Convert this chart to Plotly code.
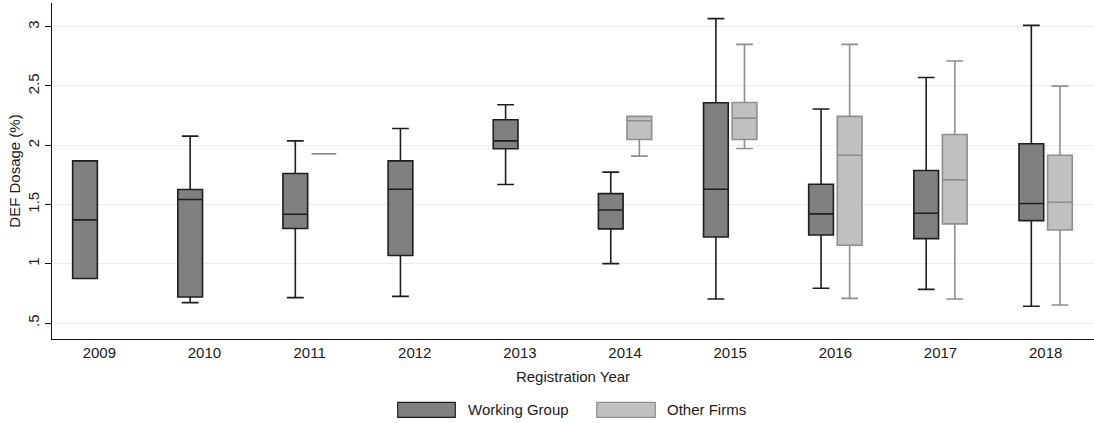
import plotly.graph_objects as go

# ---- data ----
years = ["2009", "2010", "2011", "2012", "2013", "2014", "2015", "2016", "2017", "2018"]

wg_years = ["2009", "2010", "2011", "2012", "2013", "2014", "2015", "2016", "2017", "2018"]
wg_lo  = [0.875, 0.672, 0.714, 0.725, 1.668, 1.001, 0.703, 0.793, 0.784, 0.641]
wg_q1  = [0.875, 0.720, 1.297, 1.069, 1.970, 1.294, 1.226, 1.243, 1.212, 1.364]
wg_med = [1.370, 1.542, 1.418, 1.629, 2.037, 1.454, 1.629, 1.421, 1.426, 1.508]
wg_q3  = [1.868, 1.626, 1.761, 1.868, 2.215, 1.592, 2.358, 1.671, 1.787, 2.012]
wg_hi  = [1.868, 2.077, 2.037, 2.141, 2.341, 1.773, 3.068, 2.305, 2.572, 3.011]

of_years = ["2011", "2014", "2015", "2016", "2017", "2018"]
of_lo  = [1.927, 1.908, 1.972, 0.708, 0.703, 0.652]
of_q1  = [1.927, 2.048, 2.048, 1.156, 1.336, 1.285]
of_med = [1.927, 2.206, 2.229, 1.916, 1.708, 1.519]
of_q3  = [1.927, 2.243, 2.361, 2.243, 2.091, 1.916]
of_hi  = [1.927, 2.243, 2.851, 2.851, 2.710, 2.499]

y_ticks = [0.5, 1, 1.5, 2, 2.5, 3]
y_ticktext = [".5", "1", "1.5", "2", "2.5", "3"]

series_names = ["Working Group", "Other Firms"]

# ---- styles ----
FONT = "Liberation Sans, Arial, Helvetica, sans-serif"
WG_FILL, WG_LINE = "#808080", "#1e1e1e"
OF_FILL, OF_LINE = "#c0c0c0", "#8e8e8e"
GRID = "#e6eeee"

fig = go.Figure()
fig.add_trace(go.Box(
    name=series_names[0], x=wg_years,
    q1=wg_q1, median=wg_med, q3=wg_q3, lowerfence=wg_lo, upperfence=wg_hi,
    fillcolor=WG_FILL, line=dict(color=WG_LINE, width=1.6),
    whiskerwidth=0.68, boxpoints=False, showlegend=False,
))
fig.add_trace(go.Box(
    name=series_names[1], x=of_years,
    q1=of_q1, median=of_med, q3=of_q3, lowerfence=of_lo, upperfence=of_hi,
    fillcolor=OF_FILL, line=dict(color=OF_LINE, width=1.6),
    whiskerwidth=0.68, boxpoints=False, showlegend=False,
))

W, H = 1094, 423
ML, MR, MT, MB = 52, 0, 3, 84
pw, ph = W - ML - MR, H - MT - MB

def px(x):
    return (x - ML) / pw

def py(y):
    return (H - MB - y) / ph

# custom legend (wide swatches like the original)
legend_items = [
    (series_names[0], WG_FILL, WG_LINE, 397.7, 455.3, 465.7),
    (series_names[1], OF_FILL, OF_LINE, 596.7, 655.3, 665.0),
]
shapes = []
annotations = []
for name, fill, line, x0, x1, xt in legend_items:
    shapes.append(dict(type="rect", xref="paper", yref="paper",
                       x0=px(x0), x1=px(x1), y0=py(417.3), y1=py(402.3),
                       fillcolor=fill, line=dict(color=line, width=1.2)))
    annotations.append(dict(xref="paper", yref="paper", x=px(xt), y=py(409.8),
                            xanchor="left", yanchor="middle", showarrow=False,
                            text=name, font=dict(family=FONT, size=15, color="#1a1a1a")))

fig.update_layout(
    width=W, height=H,
    margin=dict(l=ML, r=MR, t=MT, b=MB, autoexpand=False),
    paper_bgcolor="white", plot_bgcolor="white",
    boxmode="group", boxgap=0.456, boxgroupgap=0.136,
    font=dict(family=FONT, size=15, color="#1a1a1a"),
    shapes=shapes, annotations=annotations,
    xaxis=dict(
        type="category", categoryorder="array", categoryarray=years,
        range=[-0.45, 9.46], automargin=False,
        showline=True, linecolor="#111", linewidth=1.2,
        ticks="", showgrid=False, zeroline=False,
        tickfont=dict(family=FONT, size=15, color="#1a1a1a"),
        title=dict(text="Registration Year", standoff=11,
                   font=dict(family=FONT, size=15, color="#1a1a1a")),
    ),
    yaxis=dict(
        range=[0.365, 3.2], automargin=False,
        tickvals=y_ticks, ticktext=y_ticktext, tickangle=-90,
        showline=True, linecolor="#111", linewidth=1.2,
        ticks="outside", ticklen=6, tickcolor="#111", tickwidth=1.2,
        showgrid=True, gridcolor=GRID, gridwidth=1, zeroline=False,
        tickfont=dict(family=FONT, size=15, color="#1a1a1a"),
        title=dict(text="DEF Dosage (%)", standoff=0,
                   font=dict(family=FONT, size=15, color="#1a1a1a")),
    ),
)

fig.write_html(
    "out.html",
    config={"displayModeBar": False},
    post_script="document.body.style.margin='0';document.body.style.padding='0';document.body.style.overflow='hidden';",
)
